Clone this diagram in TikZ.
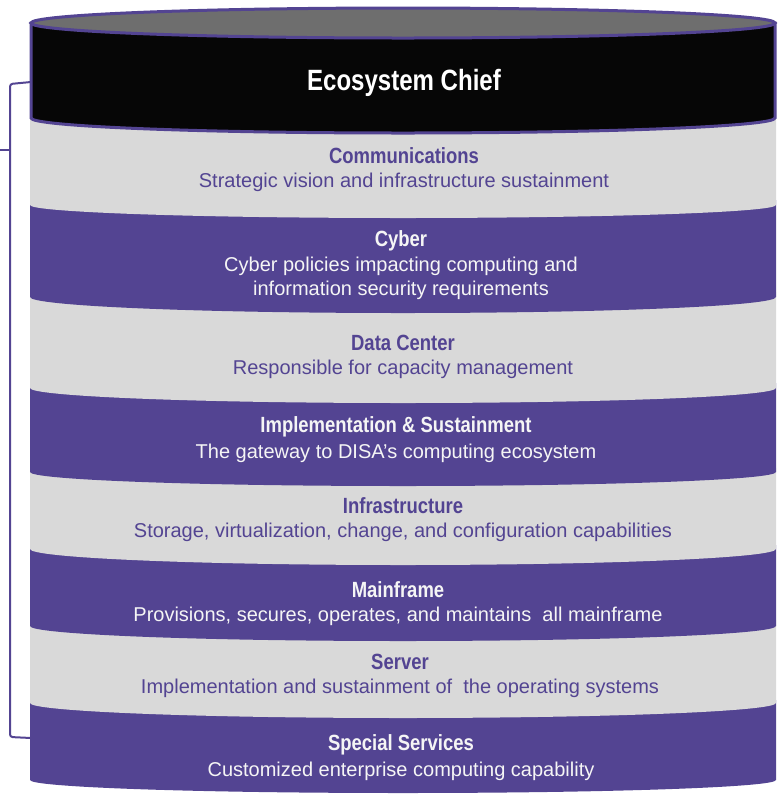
\documentclass[tikz,border=0pt]{standalone}
\usepackage{fontspec}
\setmainfont{Liberation Sans}
\newfontfamily\condfont[FakeStretch=0.84]{Liberation Sans}
\newfontfamily\chieffont[FakeStretch=0.82]{Liberation Sans}

\definecolor{ecoPurple}{RGB}{83,68,146}
\definecolor{ecoGray}{RGB}{217,217,217}
\definecolor{ecoLid}{RGB}{110,110,110}
\definecolor{ecoBlack}{RGB}{6,6,6}
\definecolor{ecoWhite}{RGB}{245,245,245}

\tikzset{every picture/.style={line width=0.75pt}}
\tikzset{
  graybandstyle/.style={fill=ecoGray, draw=none},
  purpbandstyle/.style={fill=ecoPurple, draw=none},
  titlestyle/.style={font=\condfont\bfseries\fontsize{16.5}{19}\selectfont, inner sep=0pt},
  descstyle/.style={font=\fontsize{15}{18}\selectfont, inner sep=0pt, align=center},
  bracketstyle/.style={draw=ecoPurple, line width=1.5pt, rounded corners=2pt}
}

\begin{document}
\begin{tikzpicture}[x=0.75pt,y=0.75pt,yscale=-1,xscale=1]
\useasboundingbox (0,0) rectangle (779,794);
%Bracket on the left
\coordinate (brtop) at (31,82);
\coordinate (brbot) at (31,738);
\coordinate (brtick) at (0,150);
\draw[bracketstyle] (brtop) -- (10,84) -- (10,737) -- (brbot);
\draw[bracketstyle] (10,150) -- (brtick);
%Band: Special Services
\fill[purpbandstyle] (30,700) -- (776,700) -- (776,780) arc[start angle=0,end angle=180,x radius=373,y radius=13] -- cycle;
%Band: Server
\fill[graybandstyle] (30,620) -- (776,620) -- (776,703) arc[start angle=0,end angle=180,x radius=373,y radius=15] -- cycle;
%Band: Mainframe
\fill[purpbandstyle] (30,545) -- (776,545) -- (776,626) arc[start angle=0,end angle=180,x radius=373,y radius=15] -- cycle;
%Band: Infrastructure
\fill[graybandstyle] (30,468) -- (776,468) -- (776,549) arc[start angle=0,end angle=180,x radius=373,y radius=16] -- cycle;
%Band: Implementation & Sustainment
\fill[purpbandstyle] (30,383) -- (776,383) -- (776,472) arc[start angle=0,end angle=180,x radius=373,y radius=14] -- cycle;
%Band: Data Center
\fill[graybandstyle] (30,292) -- (776,292) -- (776,388) arc[start angle=0,end angle=180,x radius=373,y radius=15] -- cycle;
%Band: Cyber
\fill[purpbandstyle] (30,200) -- (776,200) -- (776,297) arc[start angle=0,end angle=180,x radius=373,y radius=16] -- cycle;
%Band: Communications
\fill[graybandstyle] (30,110) -- (776,110) -- (776,205) arc[start angle=0,end angle=180,x radius=373,y radius=13] -- cycle;
%Shape: black body of the lid
\draw[draw=ecoPurple, fill=ecoBlack, line width=2.25pt] (31,23) -- (31,118) arc[start angle=180,end angle=0,x radius=372,y radius=15] -- (775,23) -- cycle;
%Shape: Ellipse on top
\draw[draw=ecoPurple, fill=ecoLid, line width=2.25pt] (403,23) ellipse[x radius=372,y radius=15];
%Texts
\node[font=\chieffont\bfseries\fontsize{22}{26}\selectfont, text=white] (chief) at (404,83) {Ecosystem Chief};
\node[titlestyle, text=ecoPurple] (comm) at (404,156) {Communications};
\node[descstyle, text=ecoPurple] (commd) at (404,182) {Strategic vision and infrastructure sustainment};
\node[titlestyle, text=ecoWhite] (cyber) at (401,241) {Cyber};
\node[descstyle, text=ecoWhite] (cyberd) at (401,278) {Cyber policies impacting computing and\\ information security requirements};
\node[titlestyle, text=ecoPurple] (dc) at (403,343) {Data Center};
\node[descstyle, text=ecoPurple] (dcd) at (403,369) {Responsible for capacity management};
\node[titlestyle, text=ecoWhite] (impl) at (396,427) {Implementation \& Sustainment};
\node[descstyle, text=ecoWhite] (impld) at (396,453) {The gateway to DISA’s computing ecosystem};
\node[titlestyle, text=ecoPurple] (infra) at (403,506) {Infrastructure};
\node[descstyle, text=ecoPurple] (infrad) at (403,532) {Storage, virtualization, change, and configuration capabilities};
\node[titlestyle, text=ecoWhite] (mf) at (398,590) {Mainframe};
\node[descstyle, text=ecoWhite] (mfd) at (398,616) {Provisions, secures, operates, and maintains\ \ all mainframe};
\node[titlestyle, text=ecoPurple] (srv) at (400,662) {Server};
\node[descstyle, text=ecoPurple] (srvd) at (400,688) {Implementation and sustainment of\ \ the operating systems};
\node[titlestyle, text=ecoWhite] (spec) at (401,745) {Special Services};
\node[descstyle, text=ecoWhite] (specd) at (401,771) {Customized enterprise computing capability};
\end{tikzpicture}
\end{document}
